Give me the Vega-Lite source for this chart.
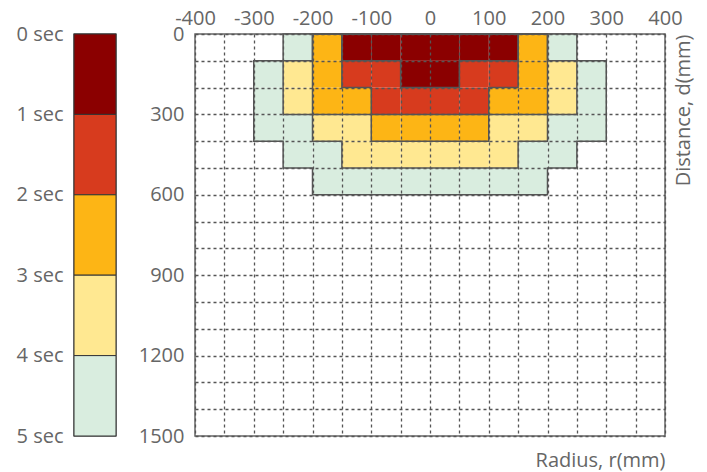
{
  "$schema": "https://vega.github.io/schema/vega-lite/v6.json",
  "padding": {"left": 15, "top": 7, "right": 2, "bottom": 1},
  "background": "white",
  "bounds": "flush",
  "spacing": 79,
  "config": {
    "font": "Open Sans",
    "view": {"stroke": "#666", "strokeWidth": 1.5},
    "axis": {
      "labelFont": "Open Sans", "labelFontSize": 20, "labelColor": "#666",
      "titleFont": "Open Sans", "titleFontSize": 20, "titleColor": "#666", "titleFontWeight": "normal",
      "ticks": false, "domain": false, "labelOverlap": false
    }
  },
  "hconcat": [
    {
      "width": 42,
      "height": 402,
      "data": {"values": [
        {"s": 0, "s2": 1, "t": 1},
        {"s": 1, "s2": 2, "t": 2},
        {"s": 2, "s2": 3, "t": 3},
        {"s": 3, "s2": 4, "t": 4},
        {"s": 4, "s2": 5, "t": 5}
      ]},
      "mark": {"type": "rect", "stroke": "#333", "strokeWidth": 1},
      "encoding": {
        "y": {"field": "s", "type": "quantitative",
          "scale": {"domain": [0, 5], "reverse": true, "nice": false, "zero": false},
          "axis": {"values": [0, 1, 2, 3, 4, 5], "labelExpr": "datum.value + ' sec'", "grid": false, "title": null, "labelPadding": 11}},
        "y2": {"field": "s2"},
        "color": {"field": "t", "type": "ordinal",
          "scale": {"domain": [1, 2, 3, 4, 5], "range": ["#8B0000", "#D73B1E", "#FDB515", "#FFE891", "#D9EDDF"]},
          "legend": null}
      }
    },
    {
      "width": 470,
      "height": 402,
      "encoding": {
        "x": {"field": "x", "type": "quantitative",
          "scale": {"domain": [-400, 400], "nice": false, "zero": false},
          "axis": {"orient": "top", "values": [-400,-350,-300,-250,-200,-150,-100,-50,0,50,100,150,200,250,300,350,400],
            "labelExpr": "datum.value % 100 === 0 ? '' + datum.value : ''",
            "labelFlush": false, "labelPadding": 6,
            "grid": true, "gridDash": [3, 3], "gridColor": "#555", "gridWidth": 1.3, "zindex": 1,
            "title": "Radius, r(mm)", "titleX": 470, "titleY": 432, "titleAlign": "right", "titleBaseline": "alphabetic", "titleAngle": 0}},
        "y": {"field": "y", "type": "quantitative",
          "scale": {"domain": [0, 1500], "reverse": true, "nice": false, "zero": false},
          "axis": {"values": [0,100,200,300,400,500,600,700,800,900,1000,1100,1200,1300,1400,1500],
            "labelExpr": "datum.value % 300 === 0 ? '' + datum.value : ''",
            "labelPadding": 11,
            "grid": true, "gridDash": [3, 3], "gridColor": "#555", "gridWidth": 1.3, "zindex": 1,
            "title": "Distance, d(mm)", "titleX": 478, "titleY": 0, "titleAngle": 270, "titleAlign": "right", "titleBaseline": "top"}}
      },
      "layer": [
        {
          "data": {"values": [
            {"x": -250, "x2": -200, "y": 0, "y2": 100, "t": 5},
            {"x": -200, "x2": -150, "y": 0, "y2": 100, "t": 3},
            {"x": -150, "x2": -100, "y": 0, "y2": 100, "t": 1},
            {"x": -100, "x2": -50, "y": 0, "y2": 100, "t": 1},
            {"x": -50, "x2": 0, "y": 0, "y2": 100, "t": 1},
            {"x": 0, "x2": 50, "y": 0, "y2": 100, "t": 1},
            {"x": 50, "x2": 100, "y": 0, "y2": 100, "t": 1},
            {"x": 100, "x2": 150, "y": 0, "y2": 100, "t": 1},
            {"x": 150, "x2": 200, "y": 0, "y2": 100, "t": 3},
            {"x": 200, "x2": 250, "y": 0, "y2": 100, "t": 5},

            {"x": -300, "x2": -250, "y": 100, "y2": 200, "t": 5},
            {"x": -250, "x2": -200, "y": 100, "y2": 200, "t": 4},
            {"x": -200, "x2": -150, "y": 100, "y2": 200, "t": 3},
            {"x": -150, "x2": -100, "y": 100, "y2": 200, "t": 2},
            {"x": -100, "x2": -50, "y": 100, "y2": 200, "t": 2},
            {"x": -50, "x2": 0, "y": 100, "y2": 200, "t": 1},
            {"x": 0, "x2": 50, "y": 100, "y2": 200, "t": 1},
            {"x": 50, "x2": 100, "y": 100, "y2": 200, "t": 2},
            {"x": 100, "x2": 150, "y": 100, "y2": 200, "t": 2},
            {"x": 150, "x2": 200, "y": 100, "y2": 200, "t": 3},
            {"x": 200, "x2": 250, "y": 100, "y2": 200, "t": 4},
            {"x": 250, "x2": 300, "y": 100, "y2": 200, "t": 5},

            {"x": -300, "x2": -250, "y": 200, "y2": 300, "t": 5},
            {"x": -250, "x2": -200, "y": 200, "y2": 300, "t": 4},
            {"x": -200, "x2": -150, "y": 200, "y2": 300, "t": 3},
            {"x": -150, "x2": -100, "y": 200, "y2": 300, "t": 3},
            {"x": -100, "x2": -50, "y": 200, "y2": 300, "t": 2},
            {"x": -50, "x2": 0, "y": 200, "y2": 300, "t": 2},
            {"x": 0, "x2": 50, "y": 200, "y2": 300, "t": 2},
            {"x": 50, "x2": 100, "y": 200, "y2": 300, "t": 2},
            {"x": 100, "x2": 150, "y": 200, "y2": 300, "t": 3},
            {"x": 150, "x2": 200, "y": 200, "y2": 300, "t": 3},
            {"x": 200, "x2": 250, "y": 200, "y2": 300, "t": 4},
            {"x": 250, "x2": 300, "y": 200, "y2": 300, "t": 5},

            {"x": -300, "x2": -250, "y": 300, "y2": 400, "t": 5},
            {"x": -250, "x2": -200, "y": 300, "y2": 400, "t": 5},
            {"x": -200, "x2": -150, "y": 300, "y2": 400, "t": 4},
            {"x": -150, "x2": -100, "y": 300, "y2": 400, "t": 4},
            {"x": -100, "x2": -50, "y": 300, "y2": 400, "t": 3},
            {"x": -50, "x2": 0, "y": 300, "y2": 400, "t": 3},
            {"x": 0, "x2": 50, "y": 300, "y2": 400, "t": 3},
            {"x": 50, "x2": 100, "y": 300, "y2": 400, "t": 3},
            {"x": 100, "x2": 150, "y": 300, "y2": 400, "t": 4},
            {"x": 150, "x2": 200, "y": 300, "y2": 400, "t": 4},
            {"x": 200, "x2": 250, "y": 300, "y2": 400, "t": 5},
            {"x": 250, "x2": 300, "y": 300, "y2": 400, "t": 5},

            {"x": -250, "x2": -200, "y": 400, "y2": 500, "t": 5},
            {"x": -200, "x2": -150, "y": 400, "y2": 500, "t": 5},
            {"x": -150, "x2": -100, "y": 400, "y2": 500, "t": 4},
            {"x": -100, "x2": -50, "y": 400, "y2": 500, "t": 4},
            {"x": -50, "x2": 0, "y": 400, "y2": 500, "t": 4},
            {"x": 0, "x2": 50, "y": 400, "y2": 500, "t": 4},
            {"x": 50, "x2": 100, "y": 400, "y2": 500, "t": 4},
            {"x": 100, "x2": 150, "y": 400, "y2": 500, "t": 4},
            {"x": 150, "x2": 200, "y": 400, "y2": 500, "t": 5},
            {"x": 200, "x2": 250, "y": 400, "y2": 500, "t": 5},

            {"x": -200, "x2": -150, "y": 500, "y2": 600, "t": 5},
            {"x": -150, "x2": -100, "y": 500, "y2": 600, "t": 5},
            {"x": -100, "x2": -50, "y": 500, "y2": 600, "t": 5},
            {"x": -50, "x2": 0, "y": 500, "y2": 600, "t": 5},
            {"x": 0, "x2": 50, "y": 500, "y2": 600, "t": 5},
            {"x": 50, "x2": 100, "y": 500, "y2": 600, "t": 5},
            {"x": 100, "x2": 150, "y": 500, "y2": 600, "t": 5},
            {"x": 150, "x2": 200, "y": 500, "y2": 600, "t": 5}
          ]},
          "mark": {"type": "rect", "strokeWidth": 0},
          "encoding": {
            "x2": {"field": "x2"},
            "y2": {"field": "y2"},
            "color": {"field": "t", "type": "ordinal",
              "scale": {"domain": [1, 2, 3, 4, 5], "range": ["#8B0000", "#D73B1E", "#FDB515", "#FFE891", "#D9EDDF"]},
              "legend": null}
          }
        },
        {
          "data": {"values": [
            {"lv": 1, "o": 0, "x": -150, "y": 0}, {"lv": 1, "o": 1, "x": 150, "y": 0}, {"lv": 1, "o": 2, "x": 150, "y": 100},
            {"lv": 1, "o": 3, "x": 50, "y": 100}, {"lv": 1, "o": 4, "x": 50, "y": 200}, {"lv": 1, "o": 5, "x": -50, "y": 200},
            {"lv": 1, "o": 6, "x": -50, "y": 100}, {"lv": 1, "o": 7, "x": -150, "y": 100}, {"lv": 1, "o": 8, "x": -150, "y": 0},

            {"lv": 2, "o": 0, "x": -150, "y": 0}, {"lv": 2, "o": 1, "x": 150, "y": 0}, {"lv": 2, "o": 2, "x": 150, "y": 200},
            {"lv": 2, "o": 3, "x": 100, "y": 200}, {"lv": 2, "o": 4, "x": 100, "y": 300}, {"lv": 2, "o": 5, "x": -100, "y": 300},
            {"lv": 2, "o": 6, "x": -100, "y": 200}, {"lv": 2, "o": 7, "x": -150, "y": 200}, {"lv": 2, "o": 8, "x": -150, "y": 0},

            {"lv": 3, "o": 0, "x": -200, "y": 0}, {"lv": 3, "o": 1, "x": 200, "y": 0}, {"lv": 3, "o": 2, "x": 200, "y": 300},
            {"lv": 3, "o": 3, "x": 100, "y": 300}, {"lv": 3, "o": 4, "x": 100, "y": 400}, {"lv": 3, "o": 5, "x": -100, "y": 400},
            {"lv": 3, "o": 6, "x": -100, "y": 300}, {"lv": 3, "o": 7, "x": -200, "y": 300}, {"lv": 3, "o": 8, "x": -200, "y": 0},

            {"lv": 4, "o": 0, "x": -200, "y": 0}, {"lv": 4, "o": 1, "x": 200, "y": 0}, {"lv": 4, "o": 2, "x": 200, "y": 100},
            {"lv": 4, "o": 3, "x": 250, "y": 100}, {"lv": 4, "o": 4, "x": 250, "y": 300}, {"lv": 4, "o": 5, "x": 200, "y": 300},
            {"lv": 4, "o": 6, "x": 200, "y": 400}, {"lv": 4, "o": 7, "x": 150, "y": 400}, {"lv": 4, "o": 8, "x": 150, "y": 500},
            {"lv": 4, "o": 9, "x": -150, "y": 500}, {"lv": 4, "o": 10, "x": -150, "y": 400}, {"lv": 4, "o": 11, "x": -200, "y": 400},
            {"lv": 4, "o": 12, "x": -200, "y": 300}, {"lv": 4, "o": 13, "x": -250, "y": 300}, {"lv": 4, "o": 14, "x": -250, "y": 100},
            {"lv": 4, "o": 15, "x": -200, "y": 100}, {"lv": 4, "o": 16, "x": -200, "y": 0},

            {"lv": 5, "o": 0, "x": -250, "y": 0}, {"lv": 5, "o": 1, "x": 250, "y": 0}, {"lv": 5, "o": 2, "x": 250, "y": 100},
            {"lv": 5, "o": 3, "x": 300, "y": 100}, {"lv": 5, "o": 4, "x": 300, "y": 400}, {"lv": 5, "o": 5, "x": 250, "y": 400},
            {"lv": 5, "o": 6, "x": 250, "y": 500}, {"lv": 5, "o": 7, "x": 200, "y": 500}, {"lv": 5, "o": 8, "x": 200, "y": 600},
            {"lv": 5, "o": 9, "x": -200, "y": 600}, {"lv": 5, "o": 10, "x": -200, "y": 500}, {"lv": 5, "o": 11, "x": -250, "y": 500},
            {"lv": 5, "o": 12, "x": -250, "y": 400}, {"lv": 5, "o": 13, "x": -300, "y": 400}, {"lv": 5, "o": 14, "x": -300, "y": 100},
            {"lv": 5, "o": 15, "x": -250, "y": 100}, {"lv": 5, "o": 16, "x": -250, "y": 0}
          ]},
          "mark": {"type": "line", "color": "#555", "strokeWidth": 1.5, "strokeJoin": "miter", "strokeCap": "square"},
          "encoding": {
            "detail": {"field": "lv", "type": "nominal"},
            "order": {"field": "o", "type": "quantitative"}
          }
        }
      ]
    }
  ]
}
